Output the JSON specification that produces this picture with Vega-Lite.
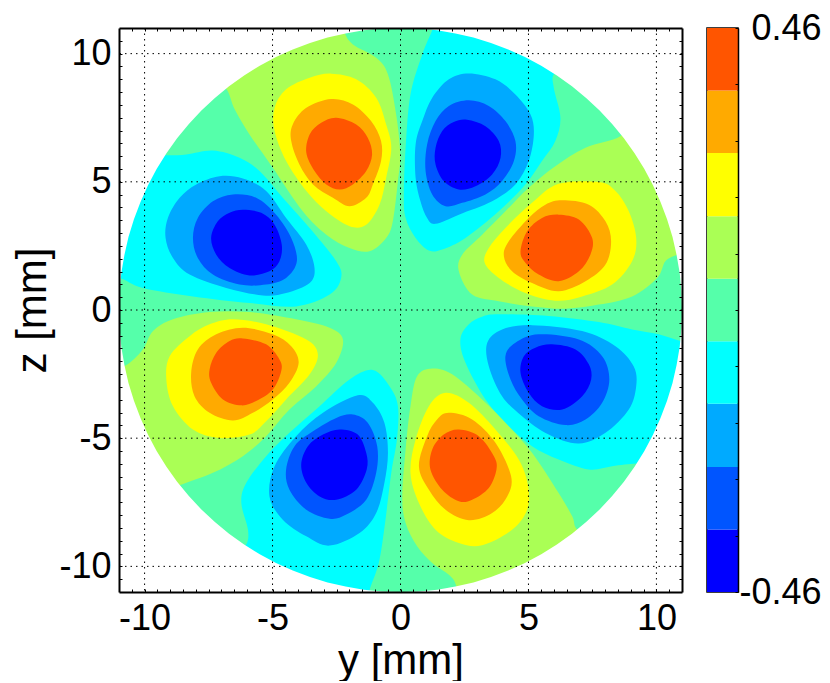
{"$schema":"https://vega.github.io/schema/vega-lite/v6.json","background":"white","padding":{"left":11,"top":9,"right":0,"bottom":0},"config":{"view":{"stroke":null},"font":"Liberation Sans","concat":{"spacing":23}},"hconcat":[{"width":563,"height":564,"view":{"fill":"#55ffaa"},"resolve":{"axis":{"x":"independent","y":"independent"}},"layer":[{"data":{"values":[
{"p":"A1","c":"c","i":0,"y":-12,"z":6},{"p":"A1","c":"c","i":1,"y":-10.5,"z":6.1},{"p":"A1","c":"c","i":2,"y":-9.22,"z":6.04},{"p":"A1","c":"c","i":3,"y":-8.37,"z":6.07},{"p":"A1","c":"c","i":4,"y":-7.33,"z":6.22},{"p":"A1","c":"c","i":5,"y":-6.29,"z":5.94},{"p":"A1","c":"c","i":6,"y":-5.51,"z":5.42},{"p":"A1","c":"c","i":7,"y":-4.6,"z":4.38},{"p":"A1","c":"c","i":8,"y":-3.55,"z":3.2},{"p":"A1","c":"c","i":9,"y":-2.51,"z":1.9},{"p":"A1","c":"c","i":10,"y":-2.32,"z":1.25},{"p":"A1","c":"c","i":11,"y":-2.77,"z":0.6},{"p":"A1","c":"c","i":12,"y":-4.08,"z":0.14},{"p":"A1","c":"c","i":13,"y":-5.9,"z":0.27},{"p":"A1","c":"c","i":14,"y":-8.11,"z":0.53},{"p":"A1","c":"c","i":15,"y":-10.07,"z":0.86},{"p":"A1","c":"c","i":16,"y":-10.98,"z":1.25},{"p":"A1","c":"c","i":17,"y":-12,"z":1.4},
{"p":"A2","c":"m","i":0,"y":-7.07,"z":5.22},{"p":"A2","c":"m","i":1,"y":-6.16,"z":5.13},{"p":"A2","c":"m","i":2,"y":-5.25,"z":4.64},{"p":"A2","c":"m","i":3,"y":-4.47,"z":3.59},{"p":"A2","c":"m","i":4,"y":-3.68,"z":2.55},{"p":"A2","c":"m","i":5,"y":-3.36,"z":1.64},{"p":"A2","c":"m","i":6,"y":-3.55,"z":1.05},{"p":"A2","c":"m","i":7,"y":-4.47,"z":0.66},{"p":"A2","c":"m","i":8,"y":-5.38,"z":0.57},{"p":"A2","c":"m","i":9,"y":-6.81,"z":0.86},{"p":"A2","c":"m","i":10,"y":-8.24,"z":1.38},{"p":"A2","c":"m","i":11,"y":-8.89,"z":2.03},{"p":"A2","c":"m","i":12,"y":-9.18,"z":2.81},{"p":"A2","c":"m","i":13,"y":-9.09,"z":3.59},{"p":"A2","c":"m","i":14,"y":-8.63,"z":4.38},{"p":"A2","c":"m","i":15,"y":-7.98,"z":4.9},
{"p":"A3","c":"d","i":0,"y":-6.55,"z":4.51},{"p":"A3","c":"d","i":1,"y":-5.64,"z":4.38},{"p":"A3","c":"d","i":2,"y":-4.86,"z":3.72},{"p":"A3","c":"d","i":3,"y":-4.27,"z":2.81},{"p":"A3","c":"d","i":4,"y":-4.05,"z":1.9},{"p":"A3","c":"d","i":5,"y":-4.47,"z":1.25},{"p":"A3","c":"d","i":6,"y":-5.25,"z":0.99},{"p":"A3","c":"d","i":7,"y":-6.29,"z":0.99},{"p":"A3","c":"d","i":8,"y":-7.33,"z":1.38},{"p":"A3","c":"d","i":9,"y":-7.92,"z":2.03},{"p":"A3","c":"d","i":10,"y":-8.11,"z":2.81},{"p":"A3","c":"d","i":11,"y":-7.92,"z":3.59},{"p":"A3","c":"d","i":12,"y":-7.33,"z":4.24},
{"p":"A4","c":"b","i":0,"y":-6.16,"z":3.91},{"p":"A4","c":"b","i":1,"y":-5.44,"z":3.79},{"p":"A4","c":"b","i":2,"y":-4.92,"z":3.33},{"p":"A4","c":"b","i":3,"y":-4.64,"z":2.55},{"p":"A4","c":"b","i":4,"y":-4.73,"z":1.9},{"p":"A4","c":"b","i":5,"y":-5.12,"z":1.51},{"p":"A4","c":"b","i":6,"y":-5.9,"z":1.35},{"p":"A4","c":"b","i":7,"y":-6.68,"z":1.64},{"p":"A4","c":"b","i":8,"y":-7.2,"z":2.16},{"p":"A4","c":"b","i":9,"y":-7.4,"z":2.81},{"p":"A4","c":"b","i":10,"y":-7.14,"z":3.46},{"p":"A4","c":"b","i":11,"y":-6.68,"z":3.79},
{"p":"B1","c":"g","i":0,"y":-6.81,"z":8.63},{"p":"B1","c":"g","i":1,"y":-6.48,"z":7.83},{"p":"B1","c":"g","i":2,"y":-5.9,"z":6.85},{"p":"B1","c":"g","i":3,"y":-4.99,"z":5.55},{"p":"B1","c":"g","i":4,"y":-3.82,"z":3.85},{"p":"B1","c":"g","i":5,"y":-2.9,"z":2.94},{"p":"B1","c":"g","i":6,"y":-1.99,"z":2.42},{"p":"B1","c":"g","i":7,"y":-1.21,"z":2.29},{"p":"B1","c":"g","i":8,"y":-0.56,"z":2.81},{"p":"B1","c":"g","i":9,"y":-0.3,"z":3.46},{"p":"B1","c":"g","i":10,"y":-0.1,"z":5.03},{"p":"B1","c":"g","i":11,"y":-0.01,"z":6.07},{"p":"B1","c":"g","i":12,"y":-0.17,"z":7.63},{"p":"B1","c":"g","i":13,"y":-0.49,"z":9.19},{"p":"B1","c":"g","i":14,"y":-0.95,"z":9.84},{"p":"B1","c":"g","i":15,"y":-1.86,"z":10.36},{"p":"B1","c":"g","i":16,"y":-2.19,"z":10.82},{"p":"B1","c":"g","i":17,"y":-2.4,"z":11.5},{"p":"B1","c":"g","i":18,"y":-5,"z":11.5},{"p":"B1","c":"g","i":19,"y":-7.5,"z":9.3},
{"p":"B2","c":"y","i":0,"y":-2.71,"z":9.22},{"p":"B2","c":"y","i":1,"y":-1.73,"z":9},{"p":"B2","c":"y","i":2,"y":-0.95,"z":8.28},{"p":"B2","c":"y","i":3,"y":-0.56,"z":7.24},{"p":"B2","c":"y","i":4,"y":-0.36,"z":6.33},{"p":"B2","c":"y","i":5,"y":-0.56,"z":5.16},{"p":"B2","c":"y","i":6,"y":-0.82,"z":4.11},{"p":"B2","c":"y","i":7,"y":-1.34,"z":3.33},{"p":"B2","c":"y","i":8,"y":-1.99,"z":3.27},{"p":"B2","c":"y","i":9,"y":-2.9,"z":3.85},{"p":"B2","c":"y","i":10,"y":-3.68,"z":4.64},{"p":"B2","c":"y","i":11,"y":-4.47,"z":5.81},{"p":"B2","c":"y","i":12,"y":-4.92,"z":6.98},{"p":"B2","c":"y","i":13,"y":-4.92,"z":7.89},{"p":"B2","c":"y","i":14,"y":-4.47,"z":8.61},{"p":"B2","c":"y","i":15,"y":-3.55,"z":9.06},
{"p":"B3","c":"o","i":0,"y":-2.71,"z":8.23},{"p":"B3","c":"o","i":1,"y":-1.86,"z":8.02},{"p":"B3","c":"o","i":2,"y":-1.15,"z":7.37},{"p":"B3","c":"o","i":3,"y":-0.76,"z":6.59},{"p":"B3","c":"o","i":4,"y":-0.76,"z":5.81},{"p":"B3","c":"o","i":5,"y":-1.08,"z":4.9},{"p":"B3","c":"o","i":6,"y":-1.34,"z":4.38},{"p":"B3","c":"o","i":7,"y":-1.99,"z":4.05},{"p":"B3","c":"o","i":8,"y":-2.64,"z":4.38},{"p":"B3","c":"o","i":9,"y":-3.42,"z":4.9},{"p":"B3","c":"o","i":10,"y":-3.95,"z":5.68},{"p":"B3","c":"o","i":11,"y":-4.27,"z":6.59},{"p":"B3","c":"o","i":12,"y":-4.21,"z":7.24},{"p":"B3","c":"o","i":13,"y":-3.68,"z":7.89},
{"p":"B4","c":"r","i":0,"y":-2.51,"z":7.5},{"p":"B4","c":"r","i":1,"y":-1.73,"z":7.24},{"p":"B4","c":"r","i":2,"y":-1.28,"z":6.72},{"p":"B4","c":"r","i":3,"y":-1.11,"z":6.07},{"p":"B4","c":"r","i":4,"y":-1.34,"z":5.42},{"p":"B4","c":"r","i":5,"y":-1.86,"z":4.9},{"p":"B4","c":"r","i":6,"y":-2.38,"z":4.7},{"p":"B4","c":"r","i":7,"y":-2.9,"z":4.9},{"p":"B4","c":"r","i":8,"y":-3.36,"z":5.42},{"p":"B4","c":"r","i":9,"y":-3.68,"z":6.13},{"p":"B4","c":"r","i":10,"y":-3.55,"z":6.85},{"p":"B4","c":"r","i":11,"y":-3.1,"z":7.3},
{"p":"C1","c":"c","i":0,"y":1.24,"z":10.92},{"p":"C1","c":"c","i":1,"y":0.85,"z":9.97},{"p":"C1","c":"c","i":2,"y":0.39,"z":8.41},{"p":"C1","c":"c","i":3,"y":0.2,"z":6.33},{"p":"C1","c":"c","i":4,"y":0.13,"z":4.51},{"p":"C1","c":"c","i":5,"y":0.2,"z":3.59},{"p":"C1","c":"c","i":6,"y":0.59,"z":2.81},{"p":"C1","c":"c","i":7,"y":1.11,"z":2.32},{"p":"C1","c":"c","i":8,"y":1.63,"z":2.36},{"p":"C1","c":"c","i":9,"y":2.54,"z":2.81},{"p":"C1","c":"c","i":10,"y":3.84,"z":3.85},{"p":"C1","c":"c","i":11,"y":4.88,"z":4.9},{"p":"C1","c":"c","i":12,"y":5.53,"z":5.81},{"p":"C1","c":"c","i":13,"y":6.05,"z":6.59},{"p":"C1","c":"c","i":14,"y":6.25,"z":7.5},{"p":"C1","c":"c","i":15,"y":5.99,"z":8.67},{"p":"C1","c":"c","i":16,"y":6.02,"z":9.23},{"p":"C1","c":"c","i":17,"y":6.8,"z":9.6},{"p":"C1","c":"c","i":18,"y":4,"z":11.5},{"p":"C1","c":"c","i":19,"y":1.4,"z":11.5},
{"p":"C2","c":"m","i":0,"y":2.67,"z":9.23},{"p":"C2","c":"m","i":1,"y":3.71,"z":9},{"p":"C2","c":"m","i":2,"y":4.49,"z":8.41},{"p":"C2","c":"m","i":3,"y":5.08,"z":7.63},{"p":"C2","c":"m","i":4,"y":5.21,"z":6.85},{"p":"C2","c":"m","i":5,"y":5.01,"z":5.81},{"p":"C2","c":"m","i":6,"y":4.49,"z":4.9},{"p":"C2","c":"m","i":7,"y":3.58,"z":4.24},{"p":"C2","c":"m","i":8,"y":2.28,"z":3.72},{"p":"C2","c":"m","i":9,"y":1.37,"z":3.36},{"p":"C2","c":"m","i":10,"y":1.04,"z":3.59},{"p":"C2","c":"m","i":11,"y":0.78,"z":4.24},{"p":"C2","c":"m","i":12,"y":0.59,"z":5.16},{"p":"C2","c":"m","i":13,"y":0.59,"z":6.46},{"p":"C2","c":"m","i":14,"y":0.85,"z":7.37},{"p":"C2","c":"m","i":15,"y":1.24,"z":8.28},{"p":"C2","c":"m","i":16,"y":1.89,"z":9},
{"p":"C3","c":"d","i":0,"y":2.67,"z":8.18},{"p":"C3","c":"d","i":1,"y":3.45,"z":7.96},{"p":"C3","c":"d","i":2,"y":4.1,"z":7.37},{"p":"C3","c":"d","i":3,"y":4.49,"z":6.59},{"p":"C3","c":"d","i":4,"y":4.43,"z":5.81},{"p":"C3","c":"d","i":5,"y":3.97,"z":5.03},{"p":"C3","c":"d","i":6,"y":3.32,"z":4.51},{"p":"C3","c":"d","i":7,"y":2.41,"z":4.18},{"p":"C3","c":"d","i":8,"y":1.76,"z":4.05},{"p":"C3","c":"d","i":9,"y":1.24,"z":4.51},{"p":"C3","c":"d","i":10,"y":0.98,"z":5.42},{"p":"C3","c":"d","i":11,"y":1.04,"z":6.46},{"p":"C3","c":"d","i":12,"y":1.37,"z":7.37},{"p":"C3","c":"d","i":13,"y":1.89,"z":7.96},
{"p":"C4","c":"b","i":0,"y":2.6,"z":7.42},{"p":"C4","c":"b","i":1,"y":3.32,"z":7.17},{"p":"C4","c":"b","i":2,"y":3.84,"z":6.59},{"p":"C4","c":"b","i":3,"y":3.91,"z":5.94},{"p":"C4","c":"b","i":4,"y":3.58,"z":5.29},{"p":"C4","c":"b","i":5,"y":2.93,"z":4.83},{"p":"C4","c":"b","i":6,"y":2.28,"z":4.7},{"p":"C4","c":"b","i":7,"y":1.69,"z":5.03},{"p":"C4","c":"b","i":8,"y":1.37,"z":5.68},{"p":"C4","c":"b","i":9,"y":1.37,"z":6.33},{"p":"C4","c":"b","i":10,"y":1.63,"z":6.98},{"p":"C4","c":"b","i":11,"y":2.08,"z":7.33},
{"p":"D1","c":"g","i":0,"y":8.59,"z":6.78},{"p":"D1","c":"g","i":1,"y":7.23,"z":6.33},{"p":"D1","c":"g","i":2,"y":6.05,"z":5.61},{"p":"D1","c":"g","i":3,"y":5.01,"z":4.77},{"p":"D1","c":"g","i":4,"y":4.1,"z":3.85},{"p":"D1","c":"g","i":5,"y":3.19,"z":2.94},{"p":"D1","c":"g","i":6,"y":2.41,"z":2.16},{"p":"D1","c":"g","i":7,"y":2.28,"z":1.51},{"p":"D1","c":"g","i":8,"y":2.8,"z":0.6},{"p":"D1","c":"g","i":9,"y":3.84,"z":0.34},{"p":"D1","c":"g","i":10,"y":5.14,"z":0.14},{"p":"D1","c":"g","i":11,"y":6.45,"z":0.05},{"p":"D1","c":"g","i":12,"y":7.75,"z":0.21},{"p":"D1","c":"g","i":13,"y":9.05,"z":0.53},{"p":"D1","c":"g","i":14,"y":10.03,"z":1.25},{"p":"D1","c":"g","i":15,"y":10.35,"z":1.9},{"p":"D1","c":"g","i":16,"y":10.81,"z":2.16},{"p":"D1","c":"g","i":17,"y":11.6,"z":2.4},{"p":"D1","c":"g","i":18,"y":10.5,"z":6},{"p":"D1","c":"g","i":19,"y":9,"z":7.5},
{"p":"D2","c":"y","i":0,"y":6.18,"z":4.92},{"p":"D2","c":"y","i":1,"y":7.75,"z":4.99},{"p":"D2","c":"y","i":2,"y":8.4,"z":4.64},{"p":"D2","c":"y","i":3,"y":8.92,"z":3.85},{"p":"D2","c":"y","i":4,"y":9.21,"z":2.81},{"p":"D2","c":"y","i":5,"y":9.05,"z":1.9},{"p":"D2","c":"y","i":6,"y":8.27,"z":0.99},{"p":"D2","c":"y","i":7,"y":7.1,"z":0.53},{"p":"D2","c":"y","i":8,"y":6.05,"z":0.36},{"p":"D2","c":"y","i":9,"y":4.88,"z":0.66},{"p":"D2","c":"y","i":10,"y":3.84,"z":1.25},{"p":"D2","c":"y","i":11,"y":3.29,"z":1.84},{"p":"D2","c":"y","i":12,"y":3.45,"z":2.42},{"p":"D2","c":"y","i":13,"y":4.1,"z":3.2},{"p":"D2","c":"y","i":14,"y":5.14,"z":4.18},
{"p":"D3","c":"o","i":0,"y":6.32,"z":4.28},{"p":"D3","c":"o","i":1,"y":7.36,"z":4.11},{"p":"D3","c":"o","i":2,"y":8.01,"z":3.46},{"p":"D3","c":"o","i":3,"y":8.23,"z":2.68},{"p":"D3","c":"o","i":4,"y":8.01,"z":1.77},{"p":"D3","c":"o","i":5,"y":7.23,"z":1.12},{"p":"D3","c":"o","i":6,"y":6.18,"z":0.73},{"p":"D3","c":"o","i":7,"y":5.14,"z":1.05},{"p":"D3","c":"o","i":8,"y":4.36,"z":1.51},{"p":"D3","c":"o","i":9,"y":4.04,"z":2.1},{"p":"D3","c":"o","i":10,"y":4.23,"z":2.68},{"p":"D3","c":"o","i":11,"y":5.01,"z":3.59},{"p":"D3","c":"o","i":12,"y":5.66,"z":4.11},
{"p":"D4","c":"r","i":0,"y":6.18,"z":3.72},{"p":"D4","c":"r","i":1,"y":6.97,"z":3.53},{"p":"D4","c":"r","i":2,"y":7.49,"z":2.81},{"p":"D4","c":"r","i":3,"y":7.42,"z":2.16},{"p":"D4","c":"r","i":4,"y":6.97,"z":1.51},{"p":"D4","c":"r","i":5,"y":6.18,"z":1.12},{"p":"D4","c":"r","i":6,"y":5.4,"z":1.38},{"p":"D4","c":"r","i":7,"y":4.88,"z":1.84},{"p":"D4","c":"r","i":8,"y":4.69,"z":2.29},{"p":"D4","c":"r","i":9,"y":4.95,"z":3.07},{"p":"D4","c":"r","i":10,"y":5.53,"z":3.59},
{"p":"E1","c":"g","i":0,"y":-10.74,"z":-2.16},{"p":"E1","c":"g","i":1,"y":-10.07,"z":-1.54},{"p":"E1","c":"g","i":2,"y":-9.67,"z":-0.82},{"p":"E1","c":"g","i":3,"y":-8.89,"z":-0.36},{"p":"E1","c":"g","i":4,"y":-7.46,"z":-0.08},{"p":"E1","c":"g","i":5,"y":-5.9,"z":-0.08},{"p":"E1","c":"g","i":6,"y":-4.08,"z":-0.36},{"p":"E1","c":"g","i":7,"y":-2.77,"z":-0.69},{"p":"E1","c":"g","i":8,"y":-2.25,"z":-1.15},{"p":"E1","c":"g","i":9,"y":-2.51,"z":-2.06},{"p":"E1","c":"g","i":10,"y":-3.29,"z":-2.97},{"p":"E1","c":"g","i":11,"y":-4.34,"z":-3.88},{"p":"E1","c":"g","i":12,"y":-5.25,"z":-4.92},{"p":"E1","c":"g","i":13,"y":-6.16,"z":-5.7},{"p":"E1","c":"g","i":14,"y":-7.33,"z":-6.35},{"p":"E1","c":"g","i":15,"y":-8.61,"z":-6.83},{"p":"E1","c":"g","i":16,"y":-9.5,"z":-7.2},{"p":"E1","c":"g","i":17,"y":-11,"z":-5},{"p":"E1","c":"g","i":18,"y":-11.6,"z":-2.4},
{"p":"E2","c":"y","i":0,"y":-6.55,"z":-0.36},{"p":"E2","c":"y","i":1,"y":-5.25,"z":-0.56},{"p":"E2","c":"y","i":2,"y":-3.68,"z":-1.15},{"p":"E2","c":"y","i":3,"y":-3.23,"z":-1.73},{"p":"E2","c":"y","i":4,"y":-3.55,"z":-2.51},{"p":"E2","c":"y","i":5,"y":-4.47,"z":-3.49},{"p":"E2","c":"y","i":6,"y":-5.25,"z":-4.34},{"p":"E2","c":"y","i":7,"y":-5.9,"z":-4.86},{"p":"E2","c":"y","i":8,"y":-7.07,"z":-4.99},{"p":"E2","c":"y","i":9,"y":-8.11,"z":-4.66},{"p":"E2","c":"y","i":10,"y":-8.89,"z":-3.75},{"p":"E2","c":"y","i":11,"y":-9.15,"z":-2.71},{"p":"E2","c":"y","i":12,"y":-9.02,"z":-1.8},{"p":"E2","c":"y","i":13,"y":-8.24,"z":-1.02},{"p":"E2","c":"y","i":14,"y":-7.46,"z":-0.56},
{"p":"E3","c":"o","i":0,"y":-6.16,"z":-0.69},{"p":"E3","c":"o","i":1,"y":-4.99,"z":-0.95},{"p":"E3","c":"o","i":2,"y":-4.27,"z":-1.41},{"p":"E3","c":"o","i":3,"y":-3.98,"z":-2.06},{"p":"E3","c":"o","i":4,"y":-4.34,"z":-2.84},{"p":"E3","c":"o","i":5,"y":-4.99,"z":-3.49},{"p":"E3","c":"o","i":6,"y":-5.77,"z":-4.01},{"p":"E3","c":"o","i":7,"y":-6.55,"z":-4.31},{"p":"E3","c":"o","i":8,"y":-7.46,"z":-4.01},{"p":"E3","c":"o","i":9,"y":-8.05,"z":-3.36},{"p":"E3","c":"o","i":10,"y":-8.18,"z":-2.45},{"p":"E3","c":"o","i":11,"y":-7.92,"z":-1.54},{"p":"E3","c":"o","i":12,"y":-7.2,"z":-0.95},
{"p":"E4","c":"r","i":0,"y":-6.16,"z":-1.11},{"p":"E4","c":"r","i":1,"y":-5.25,"z":-1.34},{"p":"E4","c":"r","i":2,"y":-4.73,"z":-1.93},{"p":"E4","c":"r","i":3,"y":-4.66,"z":-2.38},{"p":"E4","c":"r","i":4,"y":-4.99,"z":-3.1},{"p":"E4","c":"r","i":5,"y":-5.64,"z":-3.55},{"p":"E4","c":"r","i":6,"y":-6.22,"z":-3.72},{"p":"E4","c":"r","i":7,"y":-6.94,"z":-3.49},{"p":"E4","c":"r","i":8,"y":-7.4,"z":-2.84},{"p":"E4","c":"r","i":9,"y":-7.46,"z":-2.32},{"p":"E4","c":"r","i":10,"y":-7.2,"z":-1.67},{"p":"E4","c":"r","i":11,"y":-6.68,"z":-1.21},
{"p":"F1","c":"c","i":0,"y":-1.08,"z":-2.34},{"p":"F1","c":"c","i":1,"y":-0.43,"z":-2.97},{"p":"F1","c":"c","i":2,"y":-0.1,"z":-3.75},{"p":"F1","c":"c","i":3,"y":-0.14,"z":-5.05},{"p":"F1","c":"c","i":4,"y":-0.36,"z":-6.35},{"p":"F1","c":"c","i":5,"y":-0.62,"z":-8.44},{"p":"F1","c":"c","i":6,"y":-0.85,"z":-9.87},{"p":"F1","c":"c","i":7,"y":-1.21,"z":-10.94},{"p":"F1","c":"c","i":8,"y":-1.3,"z":-11.6},{"p":"F1","c":"c","i":9,"y":-4,"z":-11.5},{"p":"F1","c":"c","i":10,"y":-6.5,"z":-9.6},{"p":"F1","c":"c","i":11,"y":-6.03,"z":-9.15},{"p":"F1","c":"c","i":12,"y":-5.96,"z":-8.57},{"p":"F1","c":"c","i":13,"y":-6.22,"z":-7.53},{"p":"F1","c":"c","i":14,"y":-6.03,"z":-6.75},{"p":"F1","c":"c","i":15,"y":-5.25,"z":-5.7},{"p":"F1","c":"c","i":16,"y":-4.34,"z":-4.79},{"p":"F1","c":"c","i":17,"y":-3.16,"z":-3.75},{"p":"F1","c":"c","i":18,"y":-1.99,"z":-2.71},
{"p":"F2","c":"m","i":0,"y":-1.67,"z":-3.33},{"p":"F2","c":"m","i":1,"y":-1.08,"z":-3.62},{"p":"F2","c":"m","i":2,"y":-0.63,"z":-4.4},{"p":"F2","c":"m","i":3,"y":-0.49,"z":-5.57},{"p":"F2","c":"m","i":4,"y":-0.63,"z":-6.75},{"p":"F2","c":"m","i":5,"y":-0.95,"z":-7.92},{"p":"F2","c":"m","i":6,"y":-1.6,"z":-8.7},{"p":"F2","c":"m","i":7,"y":-2.77,"z":-9.19},{"p":"F2","c":"m","i":8,"y":-3.68,"z":-8.83},{"p":"F2","c":"m","i":9,"y":-4.6,"z":-8.18},{"p":"F2","c":"m","i":10,"y":-5.12,"z":-7.27},{"p":"F2","c":"m","i":11,"y":-4.92,"z":-6.09},{"p":"F2","c":"m","i":12,"y":-4.08,"z":-4.92},{"p":"F2","c":"m","i":13,"y":-3.03,"z":-4.01},
{"p":"F3","c":"d","i":0,"y":-1.86,"z":-4.08},{"p":"F3","c":"d","i":1,"y":-1.28,"z":-4.4},{"p":"F3","c":"d","i":2,"y":-0.91,"z":-5.31},{"p":"F3","c":"d","i":3,"y":-0.95,"z":-6.35},{"p":"F3","c":"d","i":4,"y":-1.34,"z":-7.4},{"p":"F3","c":"d","i":5,"y":-2.12,"z":-7.98},{"p":"F3","c":"d","i":6,"y":-2.77,"z":-8.14},{"p":"F3","c":"d","i":7,"y":-3.68,"z":-7.79},{"p":"F3","c":"d","i":8,"y":-4.34,"z":-7.01},{"p":"F3","c":"d","i":9,"y":-4.47,"z":-6.22},{"p":"F3","c":"d","i":10,"y":-4.14,"z":-5.31},{"p":"F3","c":"d","i":11,"y":-3.42,"z":-4.73},{"p":"F3","c":"d","i":12,"y":-2.51,"z":-4.21},
{"p":"F4","c":"b","i":0,"y":-2.38,"z":-4.66},{"p":"F4","c":"b","i":1,"y":-1.67,"z":-4.86},{"p":"F4","c":"b","i":2,"y":-1.34,"z":-5.57},{"p":"F4","c":"b","i":3,"y":-1.32,"z":-6.22},{"p":"F4","c":"b","i":4,"y":-1.73,"z":-7.01},{"p":"F4","c":"b","i":5,"y":-2.51,"z":-7.4},{"p":"F4","c":"b","i":6,"y":-3.16,"z":-7.27},{"p":"F4","c":"b","i":7,"y":-3.68,"z":-6.74},{"p":"F4","c":"b","i":8,"y":-3.88,"z":-6.03},{"p":"F4","c":"b","i":9,"y":-3.62,"z":-5.31},{"p":"F4","c":"b","i":10,"y":-3.03,"z":-4.86},
{"p":"G1","c":"c","i":0,"y":3.84,"z":-0.17},{"p":"G1","c":"c","i":1,"y":5.79,"z":-0.23},{"p":"G1","c":"c","i":2,"y":7.75,"z":-0.47},{"p":"G1","c":"c","i":3,"y":9.05,"z":-0.76},{"p":"G1","c":"c","i":4,"y":10.09,"z":-0.95},{"p":"G1","c":"c","i":5,"y":10.94,"z":-1.21},{"p":"G1","c":"c","i":6,"y":11.6,"z":-1.3},{"p":"G1","c":"c","i":7,"y":11,"z":-4},{"p":"G1","c":"c","i":8,"y":9.8,"z":-6},{"p":"G1","c":"c","i":9,"y":9.21,"z":-5.99},{"p":"G1","c":"c","i":10,"y":8.27,"z":-6.09},{"p":"G1","c":"c","i":11,"y":7.36,"z":-6.22},{"p":"G1","c":"c","i":12,"y":6.18,"z":-5.83},{"p":"G1","c":"c","i":13,"y":5.14,"z":-5.31},{"p":"G1","c":"c","i":14,"y":4.23,"z":-4.53},{"p":"G1","c":"c","i":15,"y":3.32,"z":-3.49},{"p":"G1","c":"c","i":16,"y":2.54,"z":-2.06},{"p":"G1","c":"c","i":17,"y":2.34,"z":-1.15},{"p":"G1","c":"c","i":18,"y":2.67,"z":-0.56},{"p":"G1","c":"c","i":19,"y":3.19,"z":-0.26},
{"p":"G2","c":"m","i":0,"y":5.14,"z":-0.59},{"p":"G2","c":"m","i":1,"y":7.1,"z":-0.82},{"p":"G2","c":"m","i":2,"y":8.4,"z":-1.41},{"p":"G2","c":"m","i":3,"y":9.11,"z":-2.19},{"p":"G2","c":"m","i":4,"y":9.21,"z":-2.97},{"p":"G2","c":"m","i":5,"y":8.92,"z":-3.88},{"p":"G2","c":"m","i":6,"y":8.01,"z":-4.79},{"p":"G2","c":"m","i":7,"y":6.97,"z":-5.21},{"p":"G2","c":"m","i":8,"y":5.79,"z":-4.86},{"p":"G2","c":"m","i":9,"y":4.75,"z":-4.14},{"p":"G2","c":"m","i":10,"y":3.97,"z":-3.36},{"p":"G2","c":"m","i":11,"y":3.45,"z":-2.19},{"p":"G2","c":"m","i":12,"y":3.39,"z":-1.28},{"p":"G2","c":"m","i":13,"y":3.97,"z":-0.76},
{"p":"G3","c":"d","i":0,"y":5.4,"z":-0.95},{"p":"G3","c":"d","i":1,"y":6.97,"z":-1.15},{"p":"G3","c":"d","i":2,"y":7.88,"z":-1.8},{"p":"G3","c":"d","i":3,"y":8.16,"z":-2.71},{"p":"G3","c":"d","i":4,"y":7.88,"z":-3.62},{"p":"G3","c":"d","i":5,"y":7.23,"z":-4.27},{"p":"G3","c":"d","i":6,"y":6.45,"z":-4.49},{"p":"G3","c":"d","i":7,"y":5.4,"z":-4.14},{"p":"G3","c":"d","i":8,"y":4.75,"z":-3.49},{"p":"G3","c":"d","i":9,"y":4.3,"z":-2.71},{"p":"G3","c":"d","i":10,"y":4.1,"z":-1.8},{"p":"G3","c":"d","i":11,"y":4.49,"z":-1.28},
{"p":"G4","c":"b","i":0,"y":5.92,"z":-1.34},{"p":"G4","c":"b","i":1,"y":6.84,"z":-1.54},{"p":"G4","c":"b","i":2,"y":7.36,"z":-2.12},{"p":"G4","c":"b","i":3,"y":7.45,"z":-2.71},{"p":"G4","c":"b","i":4,"y":7.1,"z":-3.36},{"p":"G4","c":"b","i":5,"y":6.32,"z":-3.88},{"p":"G4","c":"b","i":6,"y":5.53,"z":-3.75},{"p":"G4","c":"b","i":7,"y":5.01,"z":-3.23},{"p":"G4","c":"b","i":8,"y":4.69,"z":-2.45},{"p":"G4","c":"b","i":9,"y":4.82,"z":-1.8},{"p":"G4","c":"b","i":10,"y":5.27,"z":-1.47},
{"p":"H1","c":"g","i":0,"y":1.24,"z":-2.28},{"p":"H1","c":"g","i":1,"y":2.02,"z":-2.51},{"p":"H1","c":"g","i":2,"y":3.19,"z":-3.49},{"p":"H1","c":"g","i":3,"y":4.23,"z":-4.53},{"p":"H1","c":"g","i":4,"y":5.14,"z":-5.57},{"p":"H1","c":"g","i":5,"y":6.18,"z":-7.14},{"p":"H1","c":"g","i":6,"y":6.71,"z":-8.05},{"p":"H1","c":"g","i":7,"y":6.88,"z":-8.54},{"p":"H1","c":"g","i":8,"y":7.5,"z":-9},{"p":"H1","c":"g","i":9,"y":5,"z":-11},{"p":"H1","c":"g","i":10,"y":2.3,"z":-11.6},{"p":"H1","c":"g","i":11,"y":2.17,"z":-10.74},{"p":"H1","c":"g","i":12,"y":1.89,"z":-10.33},{"p":"H1","c":"g","i":13,"y":1.24,"z":-9.87},{"p":"H1","c":"g","i":14,"y":0.65,"z":-9.22},{"p":"H1","c":"g","i":15,"y":0.2,"z":-8.31},{"p":"H1","c":"g","i":16,"y":0.07,"z":-7.27},{"p":"H1","c":"g","i":17,"y":0.2,"z":-5.44},{"p":"H1","c":"g","i":18,"y":0.39,"z":-3.75},{"p":"H1","c":"g","i":19,"y":0.65,"z":-2.58},
{"p":"H2","c":"y","i":0,"y":1.76,"z":-3.23},{"p":"H2","c":"y","i":1,"y":2.67,"z":-3.62},{"p":"H2","c":"y","i":2,"y":3.71,"z":-4.66},{"p":"H2","c":"y","i":3,"y":4.62,"z":-5.83},{"p":"H2","c":"y","i":4,"y":4.99,"z":-6.88},{"p":"H2","c":"y","i":5,"y":4.95,"z":-7.79},{"p":"H2","c":"y","i":6,"y":4.36,"z":-8.57},{"p":"H2","c":"y","i":7,"y":3.19,"z":-9.18},{"p":"H2","c":"y","i":8,"y":2.28,"z":-9.09},{"p":"H2","c":"y","i":9,"y":1.37,"z":-8.57},{"p":"H2","c":"y","i":10,"y":0.72,"z":-7.53},{"p":"H2","c":"y","i":11,"y":0.39,"z":-6.35},{"p":"H2","c":"y","i":12,"y":0.59,"z":-5.05},{"p":"H2","c":"y","i":13,"y":1.11,"z":-3.75},
{"p":"H3","c":"o","i":0,"y":1.89,"z":-4.01},{"p":"H3","c":"o","i":1,"y":2.8,"z":-4.27},{"p":"H3","c":"o","i":2,"y":3.71,"z":-5.18},{"p":"H3","c":"o","i":3,"y":4.32,"z":-6.48},{"p":"H3","c":"o","i":4,"y":4.17,"z":-7.27},{"p":"H3","c":"o","i":5,"y":3.58,"z":-7.92},{"p":"H3","c":"o","i":6,"y":2.67,"z":-8.2},{"p":"H3","c":"o","i":7,"y":1.76,"z":-7.79},{"p":"H3","c":"o","i":8,"y":1.11,"z":-7.01},{"p":"H3","c":"o","i":9,"y":0.72,"z":-6.09},{"p":"H3","c":"o","i":10,"y":1.04,"z":-4.92},{"p":"H3","c":"o","i":11,"y":1.43,"z":-4.27},
{"p":"H4","c":"r","i":0,"y":2.28,"z":-4.66},{"p":"H4","c":"r","i":1,"y":3.06,"z":-4.92},{"p":"H4","c":"r","i":2,"y":3.65,"z":-5.7},{"p":"H4","c":"r","i":3,"y":3.75,"z":-6.22},{"p":"H4","c":"r","i":4,"y":3.45,"z":-6.94},{"p":"H4","c":"r","i":5,"y":2.8,"z":-7.4},{"p":"H4","c":"r","i":6,"y":2.28,"z":-7.46},{"p":"H4","c":"r","i":7,"y":1.63,"z":-7.01},{"p":"H4","c":"r","i":8,"y":1.17,"z":-6.22},{"p":"H4","c":"r","i":9,"y":1.24,"z":-5.44},{"p":"H4","c":"r","i":10,"y":1.69,"z":-4.86}
]},"mark":{"type":"line","filled":true,"interpolate":"cardinal-closed","strokeWidth":0,"clip":true},"encoding":{"x":{"field":"y","type":"quantitative","scale":{"domain":[-11,11],"nice":false,"zero":false},"title":"y [mm]","axis":{"orient":"bottom","zindex":1,"values":[-10.5,-10,-9.5,-9,-8.5,-8,-7.5,-7,-6.5,-6,-5.5,-5,-4.5,-4,-3.5,-3,-2.5,-2,-1.5,-1,-0.5,0,0.5,1,1.5,2,2.5,3,3.5,4,4.5,5,5.5,6,6.5,7,7.5,8,8.5,9,9.5,10,10.5],"labelExpr":"datum.value % 5 === 0 ? '' + datum.value : ''","labelOverlap":false,"grid":false,"tickSize":-3,"tickColor":"black","domainColor":"black","domainWidth":2,"labelFontSize":36,"labelColor":"black","labelPadding":12,"labelFlush":false,"titleFontSize":42,"titleFontWeight":"normal","titleColor":"black","titlePadding":4}},"y":{"field":"z","type":"quantitative","scale":{"domain":[-11,11],"nice":false,"zero":false},"title":"z [mm]","axis":{"orient":"left","zindex":1,"values":[-10.5,-10,-9.5,-9,-8.5,-8,-7.5,-7,-6.5,-6,-5.5,-5,-4.5,-4,-3.5,-3,-2.5,-2,-1.5,-1,-0.5,0,0.5,1,1.5,2,2.5,3,3.5,4,4.5,5,5.5,6,6.5,7,7.5,8,8.5,9,9.5,10,10.5],"labelExpr":"datum.value % 5 === 0 ? '' + datum.value : ''","labelOverlap":false,"grid":false,"tickSize":-3,"tickColor":"black","domainColor":"black","domainWidth":2,"labelFontSize":36,"labelColor":"black","labelPadding":11,"labelFlush":false,"titleFontSize":42,"titleFontWeight":"normal","titleColor":"black","titlePadding":4.5}},"color":{"field":"c","type":"nominal","scale":{"domain":["b","d","m","c","s","g","y","o","r"],"range":["#0000ff","#0055ff","#00aaff","#00ffff","#55ffaa","#aaff55","#ffff00","#ffaa00","#ff5500"]},"legend":null},"detail":{"field":"p"},"order":{"field":"i","type":"quantitative"}}},
{"data":{"values":[{"i":0,"y":11,"z":0},{"i":1,"y":11,"z":11},{"i":2,"y":-11,"z":11},{"i":3,"y":-11,"z":-11},{"i":4,"y":11,"z":-11},{"i":5,"y":11,"z":0},{"i":6,"y":10.976,"z":-0.719},{"i":7,"y":10.91,"z":-1.44},{"i":8,"y":10.789,"z":-2.146},{"i":9,"y":10.63,"z":-2.85},{"i":10,"y":10.416,"z":-3.536},{"i":11,"y":10.16,"z":-4.21},{"i":12,"y":9.866,"z":-4.865},{"i":13,"y":9.53,"z":-5.5},{"i":14,"y":9.146,"z":-6.111},{"i":15,"y":8.73,"z":-6.7},{"i":16,"y":8.27,"z":-7.253},{"i":17,"y":7.78,"z":-7.78},{"i":18,"y":7.253,"z":-8.27},{"i":19,"y":6.7,"z":-8.73},{"i":20,"y":6.111,"z":-9.146},{"i":21,"y":5.5,"z":-9.53},{"i":22,"y":4.865,"z":-9.866},{"i":23,"y":4.21,"z":-10.16},{"i":24,"y":3.536,"z":-10.416},{"i":25,"y":2.85,"z":-10.63},{"i":26,"y":2.146,"z":-10.789},{"i":27,"y":1.44,"z":-10.91},{"i":28,"y":0.719,"z":-10.976},{"i":29,"y":0,"z":-11},{"i":30,"y":-0.719,"z":-10.976},{"i":31,"y":-1.44,"z":-10.91},{"i":32,"y":-2.146,"z":-10.789},{"i":33,"y":-2.85,"z":-10.63},{"i":34,"y":-3.536,"z":-10.416},{"i":35,"y":-4.21,"z":-10.16},{"i":36,"y":-4.865,"z":-9.866},{"i":37,"y":-5.5,"z":-9.53},{"i":38,"y":-6.111,"z":-9.146},{"i":39,"y":-6.7,"z":-8.73},{"i":40,"y":-7.253,"z":-8.27},{"i":41,"y":-7.78,"z":-7.78},{"i":42,"y":-8.27,"z":-7.253},{"i":43,"y":-8.73,"z":-6.7},{"i":44,"y":-9.146,"z":-6.111},{"i":45,"y":-9.53,"z":-5.5},{"i":46,"y":-9.866,"z":-4.865},{"i":47,"y":-10.16,"z":-4.21},{"i":48,"y":-10.416,"z":-3.536},{"i":49,"y":-10.63,"z":-2.85},{"i":50,"y":-10.789,"z":-2.146},{"i":51,"y":-10.91,"z":-1.44},{"i":52,"y":-10.976,"z":-0.719},{"i":53,"y":-11,"z":0},{"i":54,"y":-10.976,"z":0.719},{"i":55,"y":-10.91,"z":1.44},{"i":56,"y":-10.789,"z":2.146},{"i":57,"y":-10.63,"z":2.85},{"i":58,"y":-10.416,"z":3.536},{"i":59,"y":-10.16,"z":4.21},{"i":60,"y":-9.866,"z":4.865},{"i":61,"y":-9.53,"z":5.5},{"i":62,"y":-9.146,"z":6.111},{"i":63,"y":-8.73,"z":6.7},{"i":64,"y":-8.27,"z":7.253},{"i":65,"y":-7.78,"z":7.78},{"i":66,"y":-7.253,"z":8.27},{"i":67,"y":-6.7,"z":8.73},{"i":68,"y":-6.111,"z":9.146},{"i":69,"y":-5.5,"z":9.53},{"i":70,"y":-4.865,"z":9.866},{"i":71,"y":-4.21,"z":10.16},{"i":72,"y":-3.536,"z":10.416},{"i":73,"y":-2.85,"z":10.63},{"i":74,"y":-2.146,"z":10.789},{"i":75,"y":-1.44,"z":10.91},{"i":76,"y":-0.719,"z":10.976},{"i":77,"y":0,"z":11},{"i":78,"y":0.719,"z":10.976},{"i":79,"y":1.44,"z":10.91},{"i":80,"y":2.146,"z":10.789},{"i":81,"y":2.85,"z":10.63},{"i":82,"y":3.536,"z":10.416},{"i":83,"y":4.21,"z":10.16},{"i":84,"y":4.865,"z":9.866},{"i":85,"y":5.5,"z":9.53},{"i":86,"y":6.111,"z":9.146},{"i":87,"y":6.7,"z":8.73},{"i":88,"y":7.253,"z":8.27},{"i":89,"y":7.78,"z":7.78},{"i":90,"y":8.27,"z":7.253},{"i":91,"y":8.73,"z":6.7},{"i":92,"y":9.146,"z":6.111},{"i":93,"y":9.53,"z":5.5},{"i":94,"y":9.866,"z":4.865},{"i":95,"y":10.16,"z":4.21},{"i":96,"y":10.416,"z":3.536},{"i":97,"y":10.63,"z":2.85},{"i":98,"y":10.789,"z":2.146},{"i":99,"y":10.91,"z":1.44},{"i":100,"y":10.976,"z":0.719},{"i":101,"y":11,"z":0}]},"mark":{"type":"line","filled":true,"fill":"white","strokeWidth":0,"clip":true},"encoding":{"x":{"field":"y","type":"quantitative","scale":{"domain":[-11,11],"nice":false,"zero":false},"axis":{"orient":"top","zindex":1,"title":null,"values":[-10.5,-10,-9.5,-9,-8.5,-8,-7.5,-7,-6.5,-6,-5.5,-5,-4.5,-4,-3.5,-3,-2.5,-2,-1.5,-1,-0.5,0,0.5,1,1.5,2,2.5,3,3.5,4,4.5,5,5.5,6,6.5,7,7.5,8,8.5,9,9.5,10,10.5],"labels":false,"grid":false,"tickSize":-3,"tickColor":"black","domainColor":"black","domainWidth":2}},"y":{"field":"z","type":"quantitative","scale":{"domain":[-11,11],"nice":false,"zero":false},"axis":{"orient":"right","zindex":1,"title":null,"values":[-10.5,-10,-9.5,-9,-8.5,-8,-7.5,-7,-6.5,-6,-5.5,-5,-4.5,-4,-3.5,-3,-2.5,-2,-1.5,-1,-0.5,0,0.5,1,1.5,2,2.5,3,3.5,4,4.5,5,5.5,6,6.5,7,7.5,8,8.5,9,9.5,10,10.5],"labels":false,"grid":false,"tickSize":-3,"tickColor":"black","domainColor":"black","domainWidth":2}},"order":{"field":"i","type":"quantitative"}}},
{"data":{"values":[{"v":-10},{"v":-5},{"v":0},{"v":5},{"v":10}]},"mark":{"type":"rule","color":"black","strokeWidth":1,"strokeDash":[1.5,4]},"encoding":{"x":{"field":"v","type":"quantitative","scale":{"domain":[-11,11],"nice":false,"zero":false},"axis":null}}},
{"data":{"values":[{"v":-10},{"v":-5},{"v":0},{"v":5},{"v":10}]},"mark":{"type":"rule","color":"black","strokeWidth":1,"strokeDash":[1.5,4]},"encoding":{"y":{"field":"v","type":"quantitative","scale":{"domain":[-11,11],"nice":false,"zero":false},"axis":null}}}
]},
{"width":31,"height":564,"view":{"stroke":"black","strokeWidth":1.5},"data":{"values":[{"c":"b","lo":-0.46,"hi":-0.358},{"c":"d","lo":-0.358,"hi":-0.256},{"c":"m","lo":-0.256,"hi":-0.153},{"c":"c","lo":-0.153,"hi":-0.051},{"c":"s","lo":-0.051,"hi":0.051},{"c":"g","lo":0.051,"hi":0.153},{"c":"y","lo":0.153,"hi":0.256},{"c":"o","lo":0.256,"hi":0.358},{"c":"r","lo":0.358,"hi":0.46}]},"mark":{"type":"rect"},"encoding":{"y":{"field":"lo","type":"quantitative","scale":{"domain":[-0.46,0.46],"nice":false,"zero":false},"axis":{"orient":"right","zindex":1,"title":null,"values":[-0.46,-0.368,-0.276,-0.184,-0.092,0,0.092,0.184,0.276,0.368,0.46],"labelExpr":"datum.value === 0.46 || datum.value === -0.46 ? '' + datum.value : ''","labelOverlap":false,"labelAlign":"right","tickSize":-3,"tickColor":"black","domainColor":"black","domainWidth":1.5,"grid":false,"labelFontSize":36,"labelColor":"black","labelPadding":86}},"y2":{"field":"hi"},"color":{"field":"c","type":"nominal","scale":{"domain":["b","d","m","c","s","g","y","o","r"],"range":["#0000ff","#0055ff","#00aaff","#00ffff","#55ffaa","#aaff55","#ffff00","#ffaa00","#ff5500"]},"legend":null}}}
]}
